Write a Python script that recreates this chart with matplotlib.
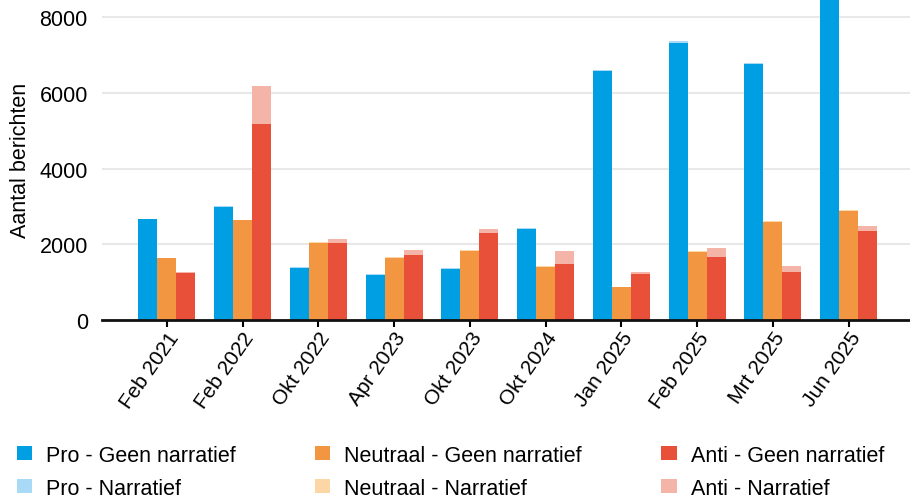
import numpy as np
import matplotlib
matplotlib.use('Agg')
import matplotlib.pyplot as plt

periods = ['Feb 2021', 'Feb 2022', 'Okt 2022', 'Apr 2023', 'Okt 2023',
           'Okt 2024', 'Jan 2025', 'Feb 2025', 'Mrt 2025', 'Jun 2025']

# per stance: "geen narratief" base + "narratief" on top
pro_geen = [2660, 2990, 1380, 1200, 1350, 2400, 6580, 7320, 6770, 9000]
pro_narr = [10, 20, 25, 10, 20, 20, 30, 50, 25, 30]
neu_geen = [1630, 2630, 2040, 1650, 1830, 1410, 870, 1800, 2600, 2890]
neu_narr = [10, 10, 10, 15, 10, 10, 0, 15, 15, 15]
anti_geen = [1250, 5180, 2030, 1720, 2300, 1480, 1220, 1660, 1270, 2350]
anti_narr = [20, 1010, 110, 130, 105, 340, 50, 240, 160, 130]

colors = {
    'pro': ('#009FE3', '#A8DAF5'),
    'neu': ('#F39641', '#FDD6A5'),
    'anti': ('#E8503A', '#F4B4A8'),
}
names = {'pro': 'Pro', 'neu': 'Neutraal', 'anti': 'Anti'}
series = {'pro': (pro_geen, pro_narr),
          'neu': (neu_geen, neu_narr),
          'anti': (anti_geen, anti_narr)}

plt.rcParams['font.family'] = ['Liberation Sans', 'DejaVu Sans']

fig = plt.figure(figsize=(9.1, 5.02), dpi=100)
ax = fig.add_axes([101.7 / 910, 1 - 321 / 502, 1 - 101.7 / 910, 321 / 502])

x = np.arange(len(periods))
w = 0.25
handles = []
for k, key in enumerate(['pro', 'neu', 'anti']):
    geen, narr = series[key]
    c1, c2 = colors[key]
    pos = x + (k - 1) * w
    b1 = ax.bar(pos, geen, w, color=c1, zorder=2,
                label=f'{names[key]} - Geen narratief')
    b2 = ax.bar(pos, narr, w, bottom=geen, color=c2, zorder=2,
                label=f'{names[key]} - Narratief')
    handles += [b1, b2]

ax.set_xlim(-0.86, 9.81)
ax.set_ylim(0, 8480)
ax.set_yticks([0, 2000, 4000, 6000, 8000])
ax.yaxis.grid(True, color='#e8e8e8', lw=1.5, zorder=0)
ax.set_axisbelow(True)
for s in ['top', 'right', 'left']:
    ax.spines[s].set_visible(False)
ax.spines['bottom'].set_linewidth(2)
ax.spines['bottom'].set_color('#111111')
ax.spines['bottom'].set_zorder(3)
ax.tick_params(axis='y', length=0, labelsize=15.5, pad=10)
ax.tick_params(axis='x', length=5, width=1.5, labelsize=15, pad=1)
ax.set_xticks(x)
ax.set_xticklabels(periods, rotation=55, ha='right', rotation_mode='anchor')
ax.set_ylabel('Aantal berichten', fontsize=15.5, labelpad=6)

fig.legend(handles=handles, loc='lower left', bbox_to_anchor=(-0.003, -0.034),
           ncol=3, frameon=False, fontsize=15.5, handlelength=0.7,
           handleheight=0.6, handletextpad=0.65, columnspacing=3.7,
           labelspacing=0.55)

fig.savefig('out.png', dpi=100)
